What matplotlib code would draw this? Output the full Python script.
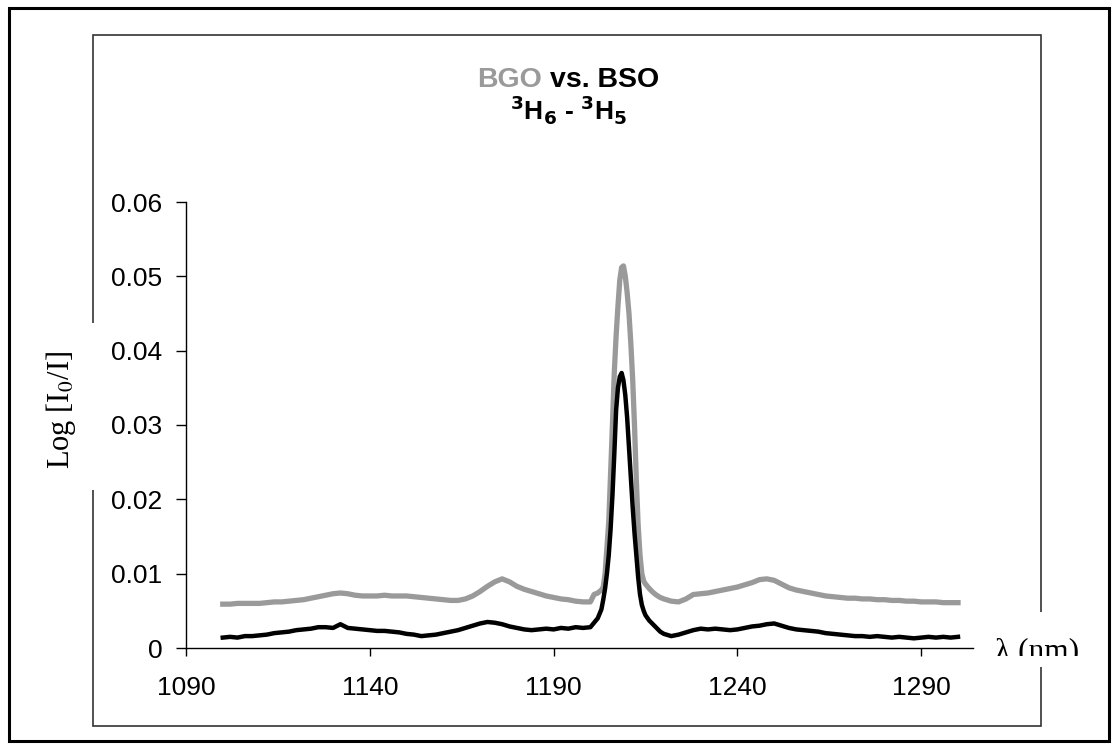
import numpy as np
import matplotlib
matplotlib.use("Agg")
import matplotlib.pyplot as plt
from matplotlib.patches import Rectangle
from matplotlib.transforms import Bbox

plt.rcParams["font.family"] = ["Liberation Sans", "DejaVu Sans"]

# wavelength grid (nm): coarse on the flat parts, finer across the peak
wl_left = np.arange(1100, 1201, 2)
wl_peak = [1201, 1202, 1203, 1203.5, 1204, 1204.5, 1205, 1205.5, 1206, 1206.5,
           1207, 1207.5, 1208, 1208.5, 1209, 1209.5, 1210, 1210.5, 1211, 1211.5,
           1212, 1212.5, 1213, 1213.5, 1214, 1214.5, 1215, 1216, 1217, 1218,
           1219, 1220]
wl_right = np.arange(1222, 1301, 2)

# BGO (grey), Log[I0/I]
bgo_left = [0.0059, 0.0059, 0.0060, 0.0060, 0.0060, 0.0060, 0.0061, 0.0062, 0.0062, 0.0063,
            0.0064, 0.0065, 0.0067, 0.0069, 0.0071, 0.0073, 0.0074, 0.0073, 0.0071, 0.0070,
            0.0070, 0.0070, 0.0071, 0.0070, 0.0070, 0.0070, 0.0069, 0.0068, 0.0067, 0.0066,
            0.0065, 0.0064, 0.0064, 0.0066, 0.0070, 0.0076, 0.0083, 0.0089, 0.0093, 0.0089,
            0.0083, 0.0079, 0.0076, 0.0073, 0.0070, 0.0068, 0.0066, 0.0065, 0.0063, 0.0062,
            0.0062]
bgo_peak = [0.0072, 0.0074, 0.0078, 0.0082, 0.0100, 0.0135, 0.0170, 0.0235, 0.0300, 0.0370,
            0.0420, 0.0460, 0.0495, 0.0512, 0.0514, 0.0500, 0.0478, 0.0450, 0.0410, 0.0362,
            0.0300, 0.0225, 0.0165, 0.0125, 0.0100, 0.0090, 0.0086, 0.0080, 0.0075, 0.0071,
            0.0068, 0.0066]
bgo_right = [0.0063, 0.0062, 0.0066, 0.0072, 0.0073, 0.0074, 0.0076, 0.0078, 0.0080, 0.0082,
             0.0085, 0.0088, 0.0092, 0.0093, 0.0091, 0.0086, 0.0081, 0.0078, 0.0076, 0.0074,
             0.0072, 0.0070, 0.0069, 0.0068, 0.0067, 0.0067, 0.0066, 0.0066, 0.0065, 0.0065,
             0.0064, 0.0064, 0.0063, 0.0063, 0.0062, 0.0062, 0.0062, 0.0061, 0.0061, 0.0061]

# BSO (black)
bso_left = [0.0014, 0.0015, 0.0014, 0.0016, 0.0016, 0.0017, 0.0018, 0.0020, 0.0021, 0.0022,
            0.0024, 0.0025, 0.0026, 0.0028, 0.0028, 0.0027, 0.0032, 0.0027, 0.0026, 0.0025,
            0.0024, 0.0023, 0.0023, 0.0022, 0.0021, 0.0019, 0.0018, 0.0016, 0.0017, 0.0018,
            0.0020, 0.0022, 0.0024, 0.0027, 0.0030, 0.0033, 0.0035, 0.0034, 0.0032, 0.0029,
            0.0027, 0.0025, 0.0024, 0.0025, 0.0026, 0.0025, 0.0027, 0.0026, 0.0028, 0.0027,
            0.0028]
bso_peak = [0.0034, 0.0040, 0.0052, 0.0065, 0.0080, 0.0100, 0.0125, 0.0160, 0.0205, 0.0260,
            0.0320, 0.0350, 0.0365, 0.0370, 0.0360, 0.0340, 0.0310, 0.0270, 0.0230, 0.0190,
            0.0155, 0.0125, 0.0095, 0.0072, 0.0058, 0.0050, 0.0044, 0.0037, 0.0032, 0.0027,
            0.0022, 0.0019]
bso_right = [0.0016, 0.0018, 0.0021, 0.0024, 0.0026, 0.0025, 0.0026, 0.0025, 0.0024, 0.0025,
             0.0027, 0.0029, 0.0030, 0.0032, 0.0033, 0.0030, 0.0027, 0.0025, 0.0024, 0.0023,
             0.0022, 0.0020, 0.0019, 0.0018, 0.0017, 0.0016, 0.0016, 0.0015, 0.0016, 0.0015,
             0.0014, 0.0015, 0.0014, 0.0013, 0.0014, 0.0015, 0.0014, 0.0015, 0.0014, 0.0015]

x_ticks = [1090, 1140, 1190, 1240, 1290]
y_ticks = [0, 0.01, 0.02, 0.03, 0.04, 0.05, 0.06]
y_tick_labels = ["0", "0.01", "0.02", "0.03", "0.04", "0.05", "0.06"]

wl = np.concatenate([wl_left, wl_peak, wl_right])
bgo = np.concatenate([bgo_left, bgo_peak, bgo_right])
bso = np.concatenate([bso_left, bso_peak, bso_right])

W, H = 1117, 755
GREY = "#9a9a9a"


def fx(px):
    return px / W


def fy(py):
    return 1 - py / H


fig = plt.figure(figsize=(W / 100, H / 100), dpi=100)

# frames
fig.add_artist(Rectangle((fx(8.5), fy(740.5)), fx(1108.5) - fx(8.5), fy(7.5) - fy(740.5),
                         transform=fig.transFigure, fill=False, lw=2.2, ec="black"))
fig.add_artist(Rectangle((fx(92.5), fy(725.5)), fx(1040.5) - fx(92.5), fy(34.5) - fy(725.5),
                         transform=fig.transFigure, fill=False, lw=1.2, ec="#333333"))
# gaps in the inner frame behind the axis titles
for x0, y0, x1, y1 in [(86, 323, 99, 490), (1034, 612, 1047, 667)]:
    fig.add_artist(Rectangle((fx(x0), fy(y1)), fx(x1) - fx(x0), fy(y0) - fy(y1),
                             transform=fig.transFigure, fc="white", ec="none", zorder=3))

ax = fig.add_axes([fx(186), fy(648), fx(972.7) - fx(186), fy(202) - fy(648)])
ax.plot(wl, bgo, color=GREY, lw=3.8, solid_joinstyle="round")
ax.plot(wl, bso, color="black", lw=3.2, solid_joinstyle="round")

ax.set_xlim(1090, 1304)
ax.set_ylim(0, 0.06)
ax.set_xticks(x_ticks)
ax.set_yticks(y_ticks)
ax.set_yticklabels(y_tick_labels)
ax.spines["top"].set_visible(False)
ax.spines["right"].set_visible(False)
for s in ("left", "bottom"):
    ax.spines[s].set_linewidth(1.0)
ax.tick_params(axis="y", direction="out", length=7, width=1, labelsize=19, pad=10)
ax.tick_params(axis="x", direction="out", length=5.5, width=1, labelsize=19, pad=15)
ax.patch.set_alpha(0)

# title, two colours on the first line
t_full = fig.text(fx(568), fy(86.7), "BGO vs. BSO", ha="center", va="baseline",
                  fontsize=20.5, fontweight="bold", alpha=0)
fig.canvas.draw()
bb = t_full.get_window_extent()
fig.text(bb.x0 / W, fy(86.7), "BGO", ha="left", va="baseline",
         fontsize=20.5, fontweight="bold", color=GREY)
fig.text(bb.x1 / W, fy(86.7), "vs. BSO", ha="right", va="baseline",
         fontsize=20.5, fontweight="bold", color="black")
fig.text(fx(568), fy(119), r"$^{\mathbf{3}}$H$_{\mathbf{6}}$ - $^{\mathbf{3}}$H$_{\mathbf{5}}$",
         ha="center", va="baseline", fontsize=19, fontweight="bold")

# axis titles
fig.text(fx(61), fy(410), r"Log [I$_0$/I]", rotation=90, ha="center", va="center",
         fontsize=22, family=["Liberation Serif", "DejaVu Serif"], math_fontfamily="stix",
         zorder=4)
xl = fig.text(fx(995), fy(659), "λ (nm)", ha="left", va="baseline", fontsize=22.5,
              family=["Liberation Serif", "DejaVu Serif"], zorder=4)
xl.set_clip_box(Bbox.from_extents(0, H - 656, W, H))
xl.set_clip_on(True)

fig.savefig("out.png", dpi=100)
